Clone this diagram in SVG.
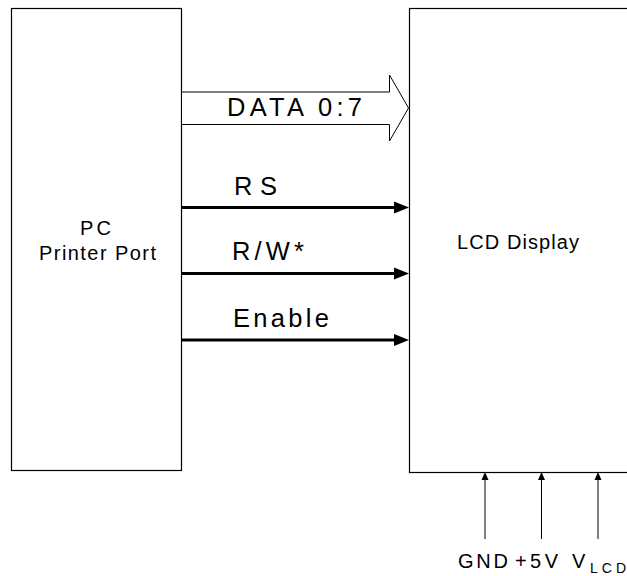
<svg xmlns="http://www.w3.org/2000/svg" width="627" height="576" viewBox="0 0 627 576">
<style>
.box{fill:#fff;stroke:#000;stroke-width:1.2}
.t{font-family:"Liberation Sans",Arial,sans-serif;fill:#000}
.sig{stroke:#000;stroke-width:3;fill:none}
.pwr{stroke:#000;stroke-width:1;fill:none}
.head{fill:#000;stroke:none}
</style>
<rect width="627" height="576" fill="#fff"/>
<g id="pc">
<rect class="box" x="11.5" y="8.5" width="170" height="462"/>
<text class="t" x="80" y="235" font-size="20" textLength="31" lengthAdjust="spacing">PC</text>
<text class="t" x="39" y="259.5" font-size="20" textLength="117" lengthAdjust="spacing">Printer Port</text>
</g>
<g id="lcd">
<rect class="box" x="409.5" y="8.5" width="230" height="464"/>
<text class="t" x="457" y="248.5" font-size="20" textLength="122" lengthAdjust="spacing">LCD Display</text>
</g>
<g id="connectors">
<polygon points="181.5,92 389.5,92 389.5,75 408.5,108 389.5,141 389.5,124.5 181.5,124.5" fill="#fff" stroke="#000" stroke-width="1"/>
<text class="t" x="227" y="116" font-size="25.5" textLength="135" lengthAdjust="spacing">DATA 0:7</text>

<line class="sig" x1="181" y1="207.5" x2="396" y2="207.5"/>
<polygon class="head" points="394,201.5 409,207.5 394,213.5"/>
<text class="t" x="234" y="195" font-size="25.5" textLength="43" lengthAdjust="spacing">RS</text>

<line class="sig" x1="181" y1="273.5" x2="396" y2="273.5"/>
<polygon class="head" points="394,267.5 409,273.5 394,279.5"/>
<text class="t" x="232" y="260" font-size="25.5" textLength="72" lengthAdjust="spacing">R/W*</text>

<line class="sig" x1="181" y1="340" x2="396" y2="340"/>
<polygon class="head" points="394,334 409,340 394,346"/>
<text class="t" x="233" y="327" font-size="25.5" textLength="96" lengthAdjust="spacing">Enable</text>

<line class="pwr" x1="485" y1="539" x2="485" y2="478"/>
<polygon class="head" points="481.5,480 485,472 488.5,480"/>
<line class="pwr" x1="541.5" y1="539" x2="541.5" y2="478"/>
<polygon class="head" points="538,480 541.5,472 545,480"/>
<line class="pwr" x1="598" y1="539" x2="598" y2="478"/>
<polygon class="head" points="594.5,480 598,472 601.5,480"/>
</g>
<g id="labels">
<text class="t" x="458" y="567.5" font-size="20" textLength="50" lengthAdjust="spacing">GND</text>
<text class="t" x="515" y="567.5" font-size="20" textLength="43" lengthAdjust="spacing">+5V</text>
<text class="t" x="572" y="567.5" font-size="20">V</text>
<text class="t" x="590" y="572.5" font-size="14" textLength="36" lengthAdjust="spacing">LCD</text>
</g>
</svg>
